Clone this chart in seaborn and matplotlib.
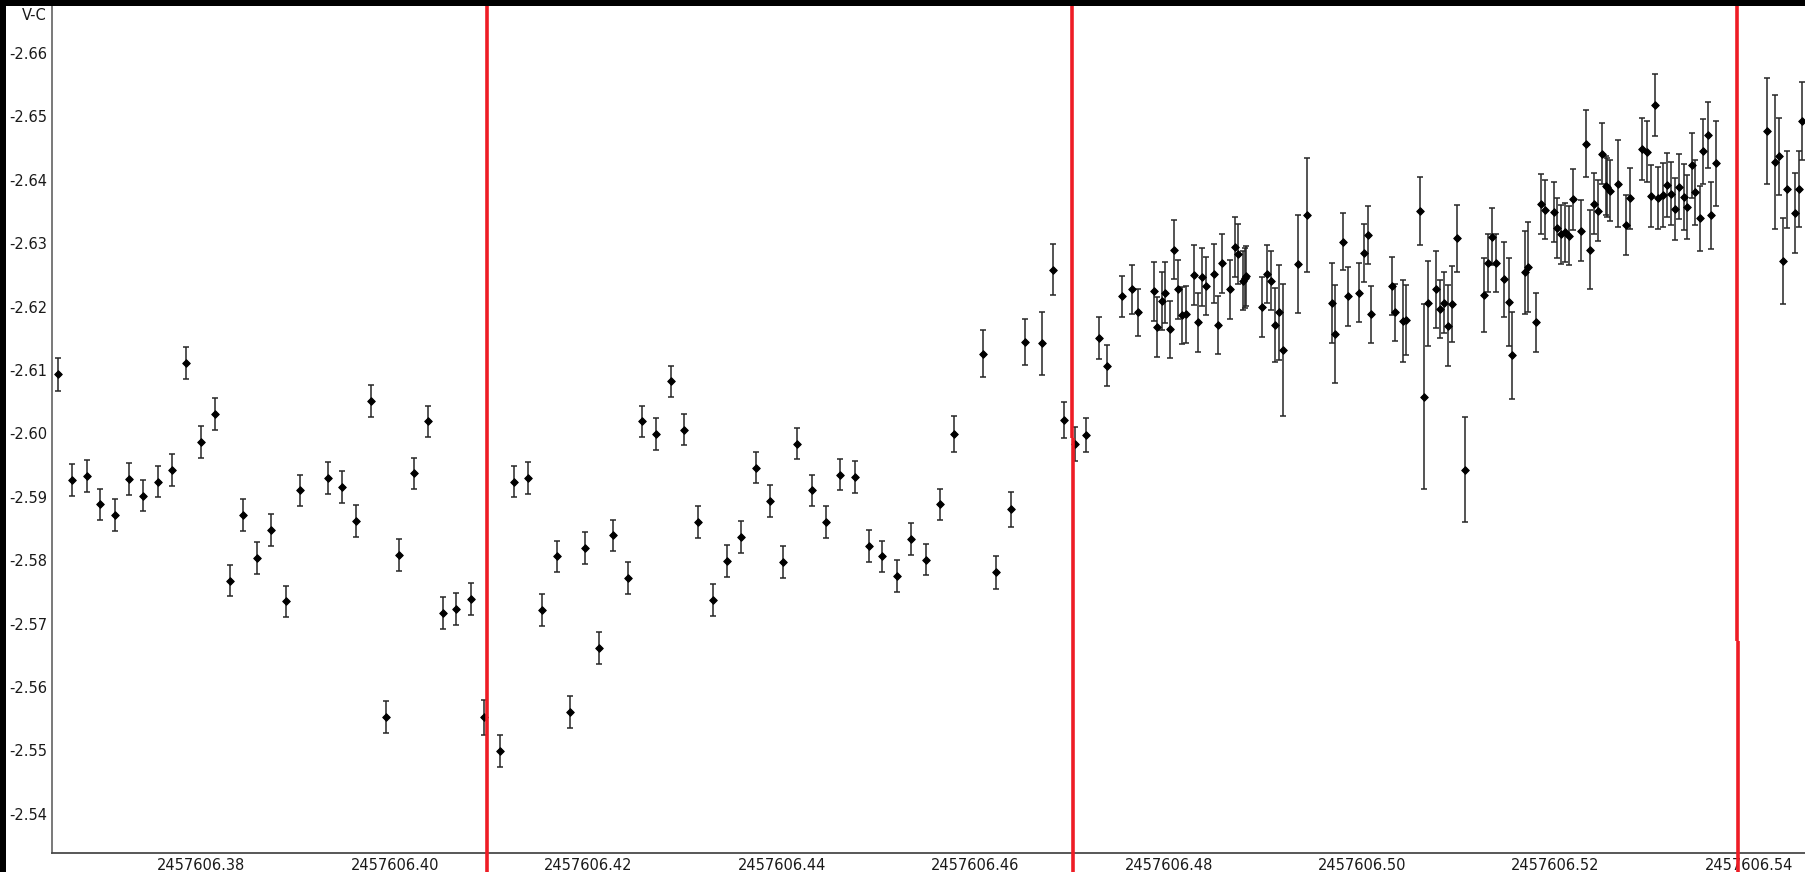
import numpy as np
import pandas as pd
import matplotlib
matplotlib.use("Agg")
import matplotlib.pyplot as plt
from matplotlib.patches import Rectangle
from matplotlib.ticker import FixedLocator, FormatStrFormatter
from matplotlib.transforms import ScaledTranslation
import seaborn as sns

# Julian date origin; times below are fractions of that day
JD0 = 2457606.0

# --- run 1 ---
seg1_t = [0.36518, 0.36661, 0.36815, 0.36958, 0.37113, 0.37256, 0.37399, 0.37554, 0.37696, 0.37839,
          0.37994, 0.38137, 0.38292, 0.38435, 0.38577, 0.38720, 0.38875, 0.39018, 0.39315, 0.39458,
          0.39601, 0.39756, 0.39906, 0.40042, 0.40196, 0.40339, 0.40494, 0.40637, 0.40792, 0.40925]
seg1_vc = [-2.6093, -2.5926, -2.5933, -2.5888, -2.5871, -2.5928, -2.5902, -2.5924, -2.5942, -2.6111,
           -2.5986, -2.6031, -2.5768, -2.5871, -2.5804, -2.5848, -2.5735, -2.5910, -2.5930, -2.5915,
           -2.5862, -2.6051, -2.5553, -2.5808, -2.5937, -2.6019, -2.5717, -2.5723, -2.5739, -2.5552]
seg1_err = [0.0026, 0.0025, 0.0025, 0.0025, 0.0025, 0.0025, 0.0025, 0.0025, 0.0025, 0.0025,
            0.0025, 0.0025, 0.0025, 0.0025, 0.0025, 0.0025, 0.0025, 0.0025, 0.0025, 0.0025,
            0.0025, 0.0025, 0.0025, 0.0025, 0.0025, 0.0025, 0.0025, 0.0025, 0.0025, 0.0027]

# --- run 2 ---
seg2_t = [0.41084, 0.41232, 0.41375, 0.41518, 0.41673, 0.41816, 0.41970, 0.42113, 0.42256, 0.42411,
          0.42554, 0.42696, 0.42851, 0.42994, 0.43137, 0.43292, 0.43435, 0.43577, 0.43732, 0.43875,
          0.44018, 0.44161, 0.44316, 0.44458, 0.44601, 0.44756, 0.44899, 0.45042, 0.45197, 0.45339,
          0.45494, 0.45637, 0.45786, 0.46086, 0.46220, 0.46375, 0.46520, 0.46696, 0.46806, 0.46920]
seg2_vc = [-2.5499, -2.5924, -2.5930, -2.5721, -2.5806, -2.5561, -2.5819, -2.5661, -2.5839, -2.5772,
           -2.6019, -2.5999, -2.6082, -2.6006, -2.5860, -2.5737, -2.5799, -2.5837, -2.5946, -2.5893,
           -2.5797, -2.5984, -2.5910, -2.5860, -2.5935, -2.5931, -2.5822, -2.5806, -2.5775, -2.5833,
           -2.5801, -2.5888, -2.5999, -2.6126, -2.5781, -2.5880, -2.6144, -2.6142, -2.6258, -2.6021]
seg2_err = [0.0025, 0.0025, 0.0025, 0.0025, 0.0025, 0.0025, 0.0025, 0.0025, 0.0025, 0.0025,
            0.0025, 0.0025, 0.0025, 0.0025, 0.0025, 0.0025, 0.0025, 0.0025, 0.0025, 0.0025,
            0.0025, 0.0025, 0.0025, 0.0025, 0.0025, 0.0025, 0.0025, 0.0025, 0.0025, 0.0025,
            0.0025, 0.0025, 0.0028, 0.0037, 0.0026, 0.0027, 0.0036, 0.0050, 0.0040, 0.0028]

# --- run 3 ---
seg3_t = [0.47036, 0.47144, 0.47282, 0.47367, 0.47522, 0.47626, 0.47685, 0.47850, 0.47884, 0.47933,
          0.47967, 0.48016, 0.48060, 0.48098, 0.48143, 0.48181, 0.48261, 0.48308, 0.48343, 0.48391,
          0.48474, 0.48508, 0.48556, 0.48639, 0.48684, 0.48718, 0.48770, 0.48787, 0.48804, 0.48967,
          0.49015, 0.49060, 0.49098, 0.49143, 0.49180, 0.49342, 0.49429, 0.49684, 0.49722, 0.49805,
          0.49850, 0.49971, 0.50016, 0.50062, 0.50097, 0.50308, 0.50345, 0.50424, 0.50455, 0.50603,
          0.50641, 0.50686, 0.50768, 0.50804, 0.50851, 0.50893, 0.50931, 0.50979, 0.51060, 0.51260,
          0.51302, 0.51340, 0.51388, 0.51471, 0.51516, 0.51554, 0.51682, 0.51720, 0.51799, 0.51848,
          0.51893, 0.51979, 0.52014, 0.52058, 0.52100, 0.52144, 0.52179, 0.52262, 0.52310, 0.52358,
          0.52393, 0.52441, 0.52475, 0.52517, 0.52537, 0.52558, 0.52641, 0.52724, 0.52769, 0.52896,
          0.52948, 0.52987, 0.53031, 0.53063, 0.53111, 0.53149, 0.53194, 0.53231, 0.53280, 0.53325,
          0.53363, 0.53412, 0.53443, 0.53491, 0.53529, 0.53578, 0.53612, 0.53661]
seg3_vc = [-2.5983, -2.5997, -2.6150, -2.6107, -2.6216, -2.6227, -2.6191, -2.6224, -2.6168, -2.6209,
           -2.6222, -2.6164, -2.6290, -2.6227, -2.6186, -2.6188, -2.6250, -2.6175, -2.6247, -2.6232,
           -2.6252, -2.6171, -2.6268, -2.6227, -2.6294, -2.6283, -2.6241, -2.6245, -2.6248, -2.6199,
           -2.6251, -2.6241, -2.6171, -2.6191, -2.6132, -2.6267, -2.6344, -2.6206, -2.6157, -2.6302,
           -2.6216, -2.6222, -2.6285, -2.6313, -2.6188, -2.6232, -2.6191, -2.6177, -2.6179, -2.6351,
           -2.6058, -2.6205, -2.6227, -2.6196, -2.6206, -2.6170, -2.6204, -2.6308, -2.5943, -2.6218,
           -2.6269, -2.6310, -2.6269, -2.6243, -2.6207, -2.6123, -2.6254, -2.6262, -2.6175, -2.6362,
           -2.6353, -2.6349, -2.6324, -2.6314, -2.6317, -2.6312, -2.6369, -2.6320, -2.6457, -2.6290,
           -2.6362, -2.6351, -2.6441, -2.6391, -2.6388, -2.6383, -2.6394, -2.6329, -2.6371, -2.6448,
           -2.6444, -2.6374, -2.6518, -2.6371, -2.6376, -2.6392, -2.6378, -2.6354, -2.6389, -2.6373,
           -2.6357, -2.6423, -2.6380, -2.6339, -2.6445, -2.6471, -2.6344, -2.6426]
seg3_err = [0.0027, 0.0027, 0.0033, 0.0032, 0.0032, 0.0038, 0.0037, 0.0046, 0.0047, 0.0046,
            0.0048, 0.0045, 0.0047, 0.0046, 0.0045, 0.0045, 0.0047, 0.0046, 0.0046, 0.0046,
            0.0047, 0.0046, 0.0047, 0.0047, 0.0047, 0.0047, 0.0047, 0.0047, 0.0047, 0.0047,
            0.0046, 0.0046, 0.0059, 0.0075, 0.0104, 0.0077, 0.0090, 0.0063, 0.0077, 0.0045,
            0.0046, 0.0046, 0.0046, 0.0046, 0.0045, 0.0046, 0.0045, 0.0065, 0.0055, 0.0054,
            0.0146, 0.0067, 0.0060, 0.0046, 0.0048, 0.0064, 0.0060, 0.0053, 0.0083, 0.0058,
            0.0046, 0.0045, 0.0046, 0.0059, 0.0069, 0.0069, 0.0065, 0.0071, 0.0046, 0.0047,
            0.0047, 0.0047, 0.0047, 0.0047, 0.0047, 0.0047, 0.0048, 0.0048, 0.0053, 0.0063,
            0.0048, 0.0048, 0.0048, 0.0047, 0.0047, 0.0048, 0.0068, 0.0047, 0.0048, 0.0049,
            0.0048, 0.0049, 0.0049, 0.0049, 0.0050, 0.0050, 0.0050, 0.0049, 0.0051, 0.0052,
            0.0051, 0.0051, 0.0051, 0.0051, 0.0051, 0.0052, 0.0053, 0.0067]

# --- run 4 ---
seg4_t = [0.54189, 0.54269, 0.54307, 0.54352, 0.54390, 0.54473, 0.54518, 0.54552]
seg4_vc = [-2.6477, -2.6428, -2.6437, -2.6272, -2.6385, -2.6348, -2.6385, -2.6493]
seg4_err = [0.0083, 0.0105, 0.0061, 0.0068, 0.0061, 0.0063, 0.0060, 0.0062]

# run boundaries (day fractions)
boundary_t = [0.40954, 0.46998, 0.53876]

x_ticks = [0.38, 0.40, 0.42, 0.44, 0.46, 0.48, 0.50, 0.52, 0.54]
y_ticks = [-2.66, -2.65, -2.64, -2.63, -2.62, -2.61, -2.60, -2.59, -2.58, -2.57, -2.56, -2.55, -2.54]

runs = [(seg1_t, seg1_vc, seg1_err), (seg2_t, seg2_vc, seg2_err),
        (seg3_t, seg3_vc, seg3_err), (seg4_t, seg4_vc, seg4_err)]
df = pd.concat(
    [pd.DataFrame({"jd": JD0 + np.asarray(t), "vc": v, "err": e, "run": i})
     for i, (t, v, e) in enumerate(runs)],
    ignore_index=True,
)

sns.set_theme(style="white")
plt.rcParams["font.family"] = ["Liberation Sans Narrow", "DejaVu Sans"]
plt.rcParams["axes.unicode_minus"] = False

W, H = 1806, 872
fig = plt.figure(figsize=(W / 100, H / 100), dpi=100)
fig.patch.set_facecolor("white")

ax_left, ax_top, ax_bottom = 52, 5.7, 852.5
ax = fig.add_axes([ax_left / W, (H - ax_bottom) / H, 1 - ax_left / W, (ax_bottom - ax_top) / H])
ax.set_facecolor("white")

ax.errorbar(df["jd"], df["vc"], yerr=df["err"], fmt="none", ecolor="#262626",
            elinewidth=1.1, capsize=2.4, capthick=1.1, zorder=2)
sns.scatterplot(data=df, x="jd", y="vc", marker="D", s=15, color="black",
                edgecolor="black", linewidth=0.7, legend=False, ax=ax, zorder=3)

# boundary markers run past the axis into the label strip; the later two are
# drawn as two stacked pieces, the lower one nudged right by about a pixel
boundary_split = [None, 0.49, 0.25]
xaxis_tr = ax.get_xaxis_transform()
nudge = ScaledTranslation(1.3 / 100, 0, fig.dpi_scale_trans)
line_kw = dict(color="#ee1c25", lw=2.6, clip_on=False, zorder=5, solid_capstyle="butt")
for t, split in zip(boundary_t, boundary_split):
    x = JD0 + t
    if split is None:
        ax.plot([x, x], [-0.03, 1.0], transform=xaxis_tr, **line_kw)
        continue
    ax.plot([x, x], [split, 1.0], transform=xaxis_tr, **line_kw)
    ax.plot([x, x], [-0.03, split], transform=xaxis_tr + nudge, **line_kw)

ax.set_xlim(JD0 + 0.36457, JD0 + 0.54589)
ax.set_ylim(-2.5339, -2.66746)

ax.xaxis.set_major_locator(FixedLocator([JD0 + v for v in x_ticks]))
ax.xaxis.set_major_formatter(FormatStrFormatter("%.2f"))
ax.yaxis.set_major_locator(FixedLocator(y_ticks))
ax.yaxis.set_major_formatter(FormatStrFormatter("%.2f"))
ax.tick_params(axis="both", length=0, labelsize=10.5, colors="#1a1a1a", pad=3.6)
ax.set_xlabel("")
ax.set_ylabel("")

for side in ("top", "right"):
    ax.spines[side].set_visible(False)
ax.spines["left"].set_color("#6e6e6e")
ax.spines["left"].set_linewidth(1.3)
ax.spines["bottom"].set_color("#4a4a4a")
ax.spines["bottom"].set_linewidth(1.3)

fig.text(47 / W, 1 - 15.7 / H, "V-C", ha="right", va="center", fontsize=10.5, color="#1a1a1a")

# dark frame along the top and left edges of the window
fig.add_artist(Rectangle((0, 1 - 5.7 / H), 1, 5.7 / H, transform=fig.transFigure,
                         facecolor="black", edgecolor="none", zorder=10))
fig.add_artist(Rectangle((0, 0), 6 / W, 1, transform=fig.transFigure,
                         facecolor="black", edgecolor="none", zorder=10))

fig.savefig("out.png", dpi=100)
